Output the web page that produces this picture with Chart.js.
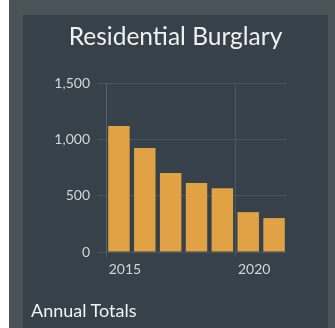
<!DOCTYPE html>
<html lang="en">

<head>
    <meta charset="UTF-8">
    <meta name="viewport" content="width=device-width, initial-scale=1.0">
    <script src="https://cdn.jsdelivr.net/npm/chart.js@4.4.1/dist/chart.umd.min.js"></script>
    <title>Residential Burglary</title>
    <style>
        body {
            margin: 0;
            background: #ffffff;
            font-family: Lato, "Open Sans", sans-serif;
        }

        .moldura {
            position: absolute;
            left: 9px;
            top: 0;
            width: 326px;
            height: 328px;
            background: #4a5358;
        }

        .painel {
            position: absolute;
            left: 14px;
            top: 15px;
            width: 305px;
            height: 313px;
            background: #36414a;
        }

        #chartBurglary {
            position: absolute;
            left: 0;
            top: 0;
        }

        .titulo {
            position: absolute;
            left: 0;
            top: 6px;
            width: 305px;
            text-align: center;
            color: #f0f0f0;
            font-size: 24.5px;
            line-height: 29px;
        }

        .rodape {
            position: absolute;
            left: 8px;
            top: 284px;
            color: #f2f2f2;
            font-size: 18px;
        }
    </style>
</head>

<body>
    <div class="moldura">
        <div class="painel">
            <canvas id="chartBurglary" width="305" height="313"></canvas>
            <div class="titulo">Residential Burglary</div>
            <div class="rodape">Annual Totals</div>
        </div>
    </div>
</body>

</html>
<script>
    // data
    var anos = ['2015', '2016', '2017', '2018', '2019', '2020', '2021'];
    var totais = [1118, 923, 702, 613, 566, 354, 301];
    var anosVisiveis = ['2015', '2020'];

    var corBarra = '#e0a245';
    var corTexto = '#d2d6d8';
    var corGrade = '#4a555d';

    var configBurglary = {
        type: 'bar',
        data: {
            labels: anos,
            datasets: [{
                data: totais,
                backgroundColor: corBarra,
                borderWidth: 0,
                categoryPercentage: 1,
                barPercentage: 0.83
            }]
        },
        options: {
            responsive: false,
            animation: false,
            layout: {
                padding: { left: 0, right: 41, top: 68, bottom: 46 }
            },
            plugins: {
                legend: { display: false },
                tooltip: { enabled: false }
            },
            scales: {
                x: {
                    grid: {
                        offset: true,
                        tickLength: 5,
                        color: function (ctx) {
                            return (ctx.index === 0 || ctx.index === 5) ? corGrade : 'rgba(0,0,0,0)';
                        }
                    },
                    border: { display: false },
                    ticks: {
                        autoSkip: false,
                        maxRotation: 0,
                        labelOffset: 6,
                        padding: 4,
                        color: corTexto,
                        font: { family: 'Lato', size: 14 },
                        callback: function (valor, i) {
                            var rotulo = anos[i];
                            return anosVisiveis.indexOf(rotulo) >= 0 ? rotulo : '';
                        }
                    },
                    afterFit: function (escala) {
                        escala.height = 30;
                    }
                },
                y: {
                    min: 0,
                    max: 1500,
                    grid: {
                        tickLength: 9,
                        color: corGrade
                    },
                    border: { color: '#566168' },
                    ticks: {
                        stepSize: 500,
                        padding: 7,
                        color: corTexto,
                        font: { family: 'Lato', size: 14 }
                    },
                    afterFit: function (escala) {
                        escala.width = 83;
                    }
                }
            }
        }
    };

    var ctx = document.getElementById('chartBurglary').getContext('2d');
    window.myBar = new Chart(ctx, configBurglary);
</script>
